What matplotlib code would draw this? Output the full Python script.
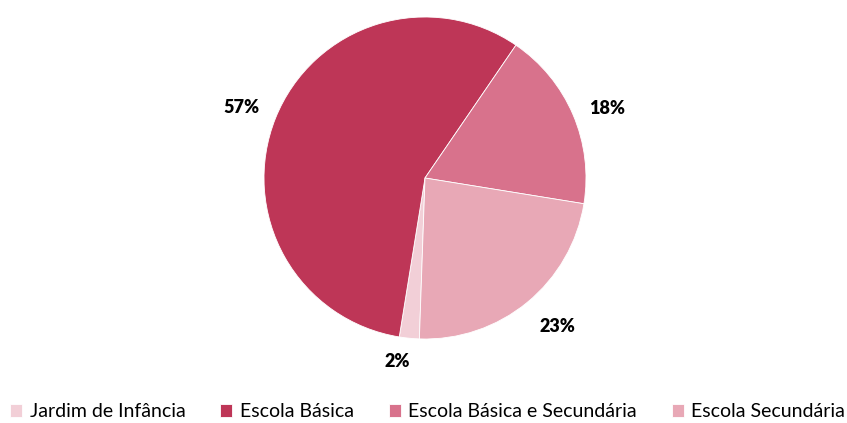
import matplotlib.pyplot as plt

# Data
categories = ['Jardim de Infância', 'Escola Básica', 'Escola Básica e Secundária', 'Escola Secundária']
values = [2, 57, 18, 23]
colors = ['#F2CFD7', '#BE3657', '#D8728C', '#E8A8B6']

plt.rcParams['font.family'] = ['Lato', 'DejaVu Sans']

fig = plt.figure(figsize=(8.47, 4.23), dpi=100)
# pie axes: center (425,178) px, radius ~161 px
ax = fig.add_axes([(425 - 161) / 847, (423 - 178 - 161) / 423, 322 / 847, 322 / 423])
wedges, texts, autotexts = ax.pie(values, colors=colors, startangle=-92, counterclock=False,
                                  autopct='%1.0f%%', pctdistance=1.22,
                                  wedgeprops=dict(edgecolor='white', linewidth=0.6))
# label placement like the original (in units of the radius)
label_pos = [(-0.17, -1.14), (-1.14, 0.44), (1.13, 0.43), (0.82, -0.92)]
for t, p in zip(autotexts, label_pos):
    t.set_position(p)
    t.set_fontsize(13)
    t.set_fontweight('heavy')
    t.set_color('black')
ax.set_xlim(-1, 1)
ax.set_ylim(-1, 1)
ax.set_aspect('equal')

fig.legend(wedges, categories, loc='lower center', bbox_to_anchor=(0.505, -0.035), ncol=4,
           frameon=False, fontsize=14, handlelength=0.6, handleheight=0.6,
           handletextpad=0.4, columnspacing=1.8)

fig.savefig('out.png', dpi=100)
